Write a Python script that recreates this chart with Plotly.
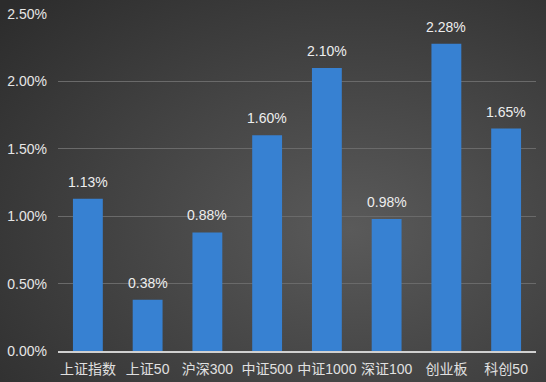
import plotly.graph_objects as go
import base64

categories = ["上证指数", "上证50", "沪深300", "中证500", "中证1000", "深证100", "创业板", "科创50"]
values = [1.13, 0.38, 0.88, 1.60, 2.10, 0.98, 2.28, 1.65]
tick_vals = [0, 0.5, 1.0, 1.5, 2.0, 2.5]
tick_text = ["0.00%", "0.50%", "1.00%", "1.50%", "2.00%", "2.50%"]

svg = '''<svg xmlns="http://www.w3.org/2000/svg" width="546" height="382" preserveAspectRatio="none">
<defs><radialGradient id="g" cx="58%" cy="60%" r="70%">
<stop offset="0%" stop-color="#5a5a5a"/><stop offset="100%" stop-color="#2c2c2c"/>
</radialGradient></defs><rect width="546" height="382" fill="url(#g)"/></svg>'''
bg = "data:image/svg+xml;base64," + base64.b64encode(svg.encode()).decode()

FONT = "Liberation Sans, Arial, Noto Sans CJK SC"

fig = go.Figure(go.Bar(
    x=categories, y=values,
    marker=dict(color="#3781d2", line=dict(width=0)),
    cliponaxis=False,
))
for c, v in zip(categories, values):
    fig.add_annotation(x=c, y=v, text=f"{v:.2f}%", showarrow=False,
                       yanchor="bottom", yshift=7,
                       font=dict(color="#eeeeee", size=14, family=FONT))
fig.update_layout(
    width=546, height=382,
    margin=dict(l=58, r=10, t=14, b=31),
    paper_bgcolor="#474747", plot_bgcolor="rgba(0,0,0,0)",
    bargap=0.5,
    showlegend=False,
    font=dict(family=FONT, color="#dddddd", size=14),
    images=[dict(source=bg, xref="paper", yref="paper", x=-0.2, y=1.2,
                 sizex=1.4, sizey=1.4, sizing="stretch", layer="below",
                 xanchor="left", yanchor="top")],
    yaxis=dict(range=[0, 2.5], tickvals=tick_vals, ticktext=tick_text, automargin=False,
               gridcolor="#6a6a6a", gridwidth=1, zeroline=False, showline=False,
               ticks="", ticklabelstandoff=10, tickfont=dict(size=14, color="#e6e6e6")),
    xaxis=dict(showline=True, linecolor="#d0d0d0", linewidth=2, ticks="", automargin=False,
               ticklabelstandoff=4, tickfont=dict(size=14, color="#e0e0e0")),
)
fig.write_html("out.html")
